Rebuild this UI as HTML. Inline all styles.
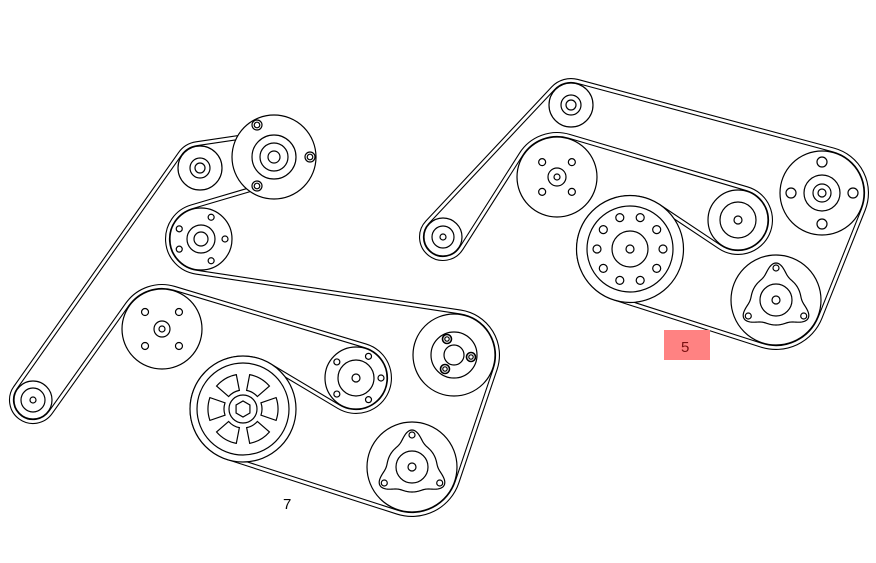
<!DOCTYPE html>
<html><head><meta charset="utf-8">
<style>
html,body{margin:0;padding:0;background:#fff;}
svg{display:block;}
text{font-family:"Liberation Sans",sans-serif;}
</style></head>
<body>
<svg id="s" width="876" height="563" viewBox="0 0 876 563" xmlns="http://www.w3.org/2000/svg">
<g id="belts" fill="none"></g>
<g id="pul" stroke="#000" stroke-width="1.2" fill="#fff"></g>
<rect x="664" y="330" width="46" height="30" fill="#ff8282"/>
<text x="681" y="352" font-size="15" fill="#7a1010">5</text>
<text x="283" y="509" font-size="15" fill="#000">7</text>
</svg>
<script>
var NS="http://www.w3.org/2000/svg";
function el(tag,attrs,parent){var e=document.createElementNS(NS,tag);for(var k in attrs)e.setAttribute(k,attrs[k]);parent.appendChild(e);return e;}
var B=document.getElementById('belts'),P=document.getElementById('pul');
function belt(list){
  var n=list.length,seg=[];
  for(var i=0;i<n;i++){
    var a=list[i],b=list[(i+1)%n];
    var dx=b[0]-a[0],dy=b[1]-a[1],L=Math.hypot(dx,dy);
    var ux=dx/L,uy=dy/L,k=(b[2]-a[2])/L,m=Math.sqrt(Math.max(0,1-k*k));
    var nx=k*ux+m*(-uy),ny=k*uy+m*ux;
    seg.push([[a[0]-a[2]*nx,a[1]-a[2]*ny],[b[0]-b[2]*nx,b[1]-b[2]*ny]]);
  }
  var d="";
  for(var i=0;i<n;i++){
    var s=seg[i];
    if(i==0)d+="M"+s[0][0].toFixed(2)+" "+s[0][1].toFixed(2);
    d+=" L"+s[1][0].toFixed(2)+" "+s[1][1].toFixed(2);
    var c=list[(i+1)%n],nxt=seg[(i+1)%n][0];
    var r=Math.abs(c[2]),sw=c[2]>0?1:0;
    var aA=Math.atan2(s[1][1]-c[1],s[1][0]-c[0]),aB=Math.atan2(nxt[1]-c[1],nxt[0]-c[0]);
    var del=sw?(aB-aA):(aA-aB);
    while(del<0)del+=2*Math.PI;while(del>=2*Math.PI)del-=2*Math.PI;
    d+=" A"+r+" "+r+" 0 "+(del>Math.PI?1:0)+" "+sw+" "+nxt[0].toFixed(2)+" "+nxt[1].toFixed(2);
  }
  el('path',{d:d+"Z",stroke:"#000","stroke-width":5,"stroke-linejoin":"round"},B);
  el('path',{d:d+"Z",stroke:"#fff","stroke-width":2.8,"stroke-linejoin":"round"},B);
}
var o=2.5;
belt([[33,400,19+o],[200,168,22+o],[274,157,22+o],[201,239,-(31+o)],[454,355,41+o],[412,467,45+o],[243,409,51],[356,378,-(31+o)],[162,329,-(40+o)]]);
belt([[443,237,19+o],[571,105,22+o],[822,193,42+o],[776,300,45+o],[630,249,51.5],[738,220,-(30+o)],[557,177,-(40+o)]]);

function C(x,y,r,extra){var e=el('circle',{cx:x,cy:y,r:r},P);if(extra)for(var k in extra)e.setAttribute(k,extra[k]);return e;}
function rings(x,y,rs){rs.forEach(function(r){C(x,y,r);});}
function holes(x,y,dist,hr,angs){angs.forEach(function(a){var t=a*Math.PI/180;C(x+dist*Math.cos(t),y+dist*Math.sin(t),hr);});}
function tri(x,y){
  C(x,y,45);
  var d="";
  for(var i=0;i<=180;i++){var p=i/180*2*Math.PI;var f=Math.pow((1+Math.cos(3*(p+Math.PI/2)))/2,4);var r=25+12*f;
    d+=(i?"L":"M")+(x+r*Math.cos(p)).toFixed(2)+" "+(y+r*Math.sin(p)).toFixed(2);}
  el('path',{d:d+"Z"},P);
  rings(x,y,[16,4]);
  holes(x,y,32,3,[-90,30,150]);
}
rings(33,400,[19,12,3]);
rings(200,168,[22,10,5]);
C(274,157,42);
rings(274,157,[22,14,6]);
[[257,125],[310,157],[257,186]].forEach(function(p){C(p[0],p[1],5);C(p[0],p[1],2.8);});
rings(201,239,[31,14,7]);
holes(201,239,24,3,[-155,-65,0,65,155]);
C(162,329,40);rings(162,329,[8,3]);holes(162,329,24,3.5,[45,135,225,315]);
C(356,378,31);rings(356,378,[18,4]);holes(356,378,25,3,[-140,-60,0,60,140]);
rings(243,409,[53,46]);
(function(){var x=243,y=409,d="";[0,60,120,180,240,300].forEach(function(a){var a1=(a-19)*Math.PI/180,a2=(a+19)*Math.PI/180,r1=19,r2=35;
 d+="M"+(x+r1*Math.cos(a1))+" "+(y+r1*Math.sin(a1))+" L"+(x+r2*Math.cos(a1))+" "+(y+r2*Math.sin(a1))+" A"+r2+" "+r2+" 0 0 1 "+(x+r2*Math.cos(a2))+" "+(y+r2*Math.sin(a2))+" L"+(x+r1*Math.cos(a2))+" "+(y+r1*Math.sin(a2))+" A"+r1+" "+r1+" 0 0 0 "+(x+r1*Math.cos(a1))+" "+(y+r1*Math.sin(a1))+"Z";});
 el('path',{d:d},P);C(x,y,14);var h="";for(var i=0;i<6;i++){var t=(i*60+30)*Math.PI/180;h+=(i?"L":"M")+(x+8*Math.cos(t))+" "+(y+8*Math.sin(t));}el('path',{d:h+"Z"},P);})();
C(454,355,41);rings(454,355,[23]);C(454,355,10);
[[447,339],[471,357],[445,369]].forEach(function(p){C(p[0],p[1],4.5,{"stroke-width":1.6});C(p[0],p[1],2.2);});
tri(412,467);
rings(571,105,[22,10,5]);
rings(443,237,[19,11,3]);
C(557,177,40);rings(557,177,[9,3]);holes(557,177,21,3.5,[45,135,225,315]);
rings(738,220,[30,18,4]);
C(822,193,42);rings(822,193,[18,9,4]);holes(822,193,31,5,[0,90,180,270]);
rings(630,249,[53.5,43,18,4]);
holes(630,249,33,4,[-108,-72,-36,0,36,72,108,144,180,216]);
tri(776,300);
</script>
</body></html>
